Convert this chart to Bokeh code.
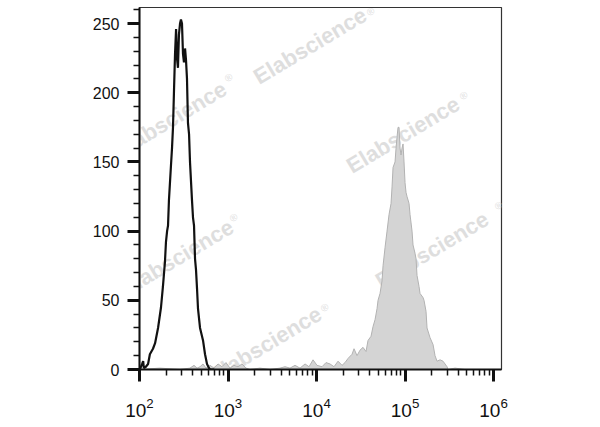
from bokeh.plotting import figure
from bokeh.models import Range1d, FixedTicker, SingleIntervalTicker, Label, LogTickFormatter
from bokeh.embed import file_html
from bokeh.resources import INLINE

# ---- data ----
black_x = [101, 107, 110, 112, 118, 125, 131, 142, 150, 162, 175, 184, 194, 199, 205, 210,
           215, 227, 233, 239, 245, 252, 259, 265, 272, 279, 287, 294, 302, 310, 318, 327,
           335, 344, 353, 363, 372, 392, 402, 413, 424, 435, 447, 458, 483, 522, 550, 579,
           610, 626, 700]
black_counts = [0, 4, 6, 1, 2, 4, 11, 15, 19, 30, 45, 60, 78, 92, 100, 104,
                122, 148, 160, 175, 200, 228, 246, 225, 218, 242, 250, 253, 250, 228, 222, 232,
                224, 210, 178, 170, 150, 122, 110, 104, 80, 72, 58, 44, 30, 21, 11, 4,
                1, 0, 0]

gray_x = [101, 170, 287, 372, 413, 447, 483, 522, 564, 626, 695, 771, 855, 949, 1053, 1169,
          1297, 1439, 1597, 1772, 2299, 2982, 3868, 4406, 5018, 5717, 6510, 7417, 8230, 9130,
          10130, 11540, 12800, 14210, 15770, 17500, 19420, 20990, 22700, 25190, 26530, 28690,
          31010, 33530, 36250, 38190, 41290, 43490, 45820, 48270, 49540, 52190, 54980, 56430,
          59430, 62610, 65960, 69480, 71310, 73190, 77100, 79140, 81230, 83370, 85560, 87820,
          90130, 92510, 94930, 97430, 100000, 102600, 105300, 111000, 113900, 120000, 123100,
          129700, 133100, 136600, 143900, 147700, 159700, 163900, 172700, 177300, 191700,
          207300, 218300, 229900, 248600, 268800, 298300, 306200, 367300, 476400, 1000000]
gray_counts = [0, 1, 0, 1, 3, 1, 2, 4, 1, 3, 1, 4, 2, 5, 1, 3,
               2, 4, 1, 0, 1, 0, 1, 2, 1, 3, 1, 4, 2, 7,
               3, 2, 5, 4, 2, 6, 3, 5, 8, 11, 15, 10,
               14, 16, 13, 21, 24, 31, 36, 44, 50, 55, 64, 75,
               88, 100, 112, 120, 132, 146, 150, 160, 168, 175, 175, 160,
               155, 160, 163, 150, 135, 128, 125, 120, 112, 100, 90,
               84, 80, 68, 60, 55, 52, 50, 42, 30, 23,
               18, 10, 6, 7, 6, 2, 0, 1, 0, 0]

x_ticks = [1e2, 1e3, 1e4, 1e5, 1e6]
x_minor = [m * d for d in [1e2, 1e3, 1e4, 1e5] for m in range(2, 10)]

watermark_text = "Elabscience"
mark_text = "\u00ae"
# watermark anchor positions (screen px, relative to the frame's bottom-left)
wm_x = [116, -24, 209, -17, 238, 71]
wm_y = [291, 217, 202, 79, 87, -8]
reg_x = [231, 89, 324, 94, 359, 185]
reg_y = [358, 292, 274, 152, 164, 62]

# ---- figure ----
p = figure(width=600, height=427, x_axis_type="log",
           x_range=Range1d(100, 1.23e6), y_range=Range1d(0, 261.6),
           output_backend="svg", toolbar_location=None,
           min_border_left=139, min_border_right=99, min_border_top=7, min_border_bottom=58)
p.grid.visible = False
p.outline_line_color = "#333333"
p.outline_line_width = 1.2
p.background_fill_color = "white"
p.border_fill_color = "white"

for x0, y0, rx, ry in zip(wm_x, wm_y, reg_x, reg_y):
    p.add_layout(Label(x=x0, y=y0, x_units="screen", y_units="screen", text=watermark_text,
                       angle=0.54, text_font="Liberation Sans", text_font_style="bold",
                       text_font_size="22px", text_color="#dedede",
                       text_align="left", text_baseline="alphabetic", level="underlay"))
    p.add_layout(Label(x=rx, y=ry, x_units="screen", y_units="screen", text=mark_text,
                       angle=0.54, text_font="Liberation Sans", text_font_size="10px",
                       text_color="#dedede", text_align="center", text_baseline="middle",
                       level="underlay"))

p.varea(x=gray_x, y1=0, y2=gray_counts, fill_color="#d4d4d4")
p.line(gray_x, gray_counts, line_color="#b2b2b2", line_width=1)
p.line(black_x, black_counts, line_color="#111111", line_width=2.2)

xa = p.xaxis[0]
xa.ticker = FixedTicker(ticks=x_ticks, minor_ticks=x_minor)
xa.formatter = LogTickFormatter()
ya = p.yaxis[0]
ya.ticker = SingleIntervalTicker(interval=50, num_minor_ticks=5)

for ax in (xa, ya):
    ax.axis_line_width = 2
    ax.axis_line_color = "#111111"
    ax.major_tick_in = 0
    ax.major_tick_out = 12
    ax.minor_tick_in = 0
    ax.minor_tick_out = 6
    ax.major_tick_line_width = 3
    ax.minor_tick_line_width = 1.5
    ax.major_tick_line_color = "#111111"
    ax.minor_tick_line_color = "#111111"
    ax.major_label_text_font = "Liberation Sans"
    ax.major_label_text_color = "#111111"

ya.major_label_text_font_size = "16px"
ya.major_label_standoff = 8
xa.major_label_text_font_size = "19px"
xa.major_label_standoff = 16

open("out.html", "w").write(file_html(p, INLINE))
